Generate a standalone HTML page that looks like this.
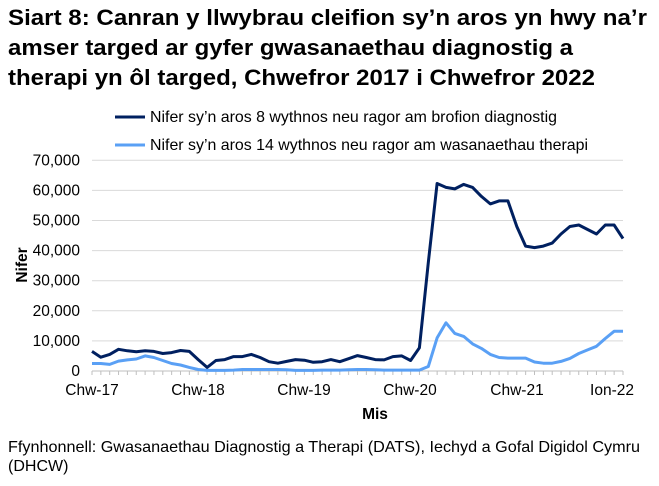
<!DOCTYPE html>
<html><head><meta charset="utf-8"><style>
body{margin:0;background:#fff;width:659px;height:481px;overflow:hidden;font-family:"Liberation Sans",Arial,sans-serif;}
</style></head><body>
<svg id="s" width="659" height="481" xmlns="http://www.w3.org/2000/svg" font-family="Liberation Sans, Arial, sans-serif">
<text x="8" y="25" font-size="22.5" font-weight="bold" fill="#000" textLength="639" lengthAdjust="spacingAndGlyphs">Siart 8: Canran y llwybrau cleifion sy’n aros yn hwy na’r</text>
<text x="8" y="55" font-size="22.5" font-weight="bold" fill="#000" textLength="565" lengthAdjust="spacingAndGlyphs">amser targed ar gyfer gwasanaethau diagnostig a</text>
<text x="8" y="85" font-size="22.5" font-weight="bold" fill="#000" textLength="587" lengthAdjust="spacingAndGlyphs">therapi yn ôl targed, Chwefror 2017 i Chwefror 2022</text>
<line x1="115" y1="117" x2="145" y2="117" stroke="#002060" stroke-width="3"/>
<text x="150" y="122" font-size="15.8" textLength="407" lengthAdjust="spacingAndGlyphs">Nifer sy’n aros 8 wythnos neu ragor am brofion diagnostig</text>
<line x1="115" y1="145" x2="145" y2="145" stroke="#5aa0f5" stroke-width="3"/>
<text x="150" y="150" font-size="15.8" textLength="438" lengthAdjust="spacingAndGlyphs">Nifer sy’n aros 14 wythnos neu ragor am wasanaethau therapi</text>
<g id="grid" stroke="#d9d9d9" stroke-width="1"></g>
<g id="yl" font-size="15.5" text-anchor="end"></g>
<line x1="92" y1="371" x2="623" y2="371" stroke="#bfbfbf"/>
<g id="tk" stroke="#bfbfbf"></g>
<g font-size="15.5" text-anchor="middle">
<text x="92" y="395">Chw-17</text><text x="198" y="395">Chw-18</text><text x="304" y="395">Chw-19</text>
<text x="410" y="395">Chw-20</text><text x="517" y="395">Chw-21</text><text x="612" y="395">Ion-22</text>
</g>
<text x="375" y="419" font-size="15.5" font-weight="bold" text-anchor="middle">Mis</text>
<text transform="translate(27,265) rotate(-90)" font-size="15.5" font-weight="bold" text-anchor="middle">Nifer</text>
<polyline id="p2" fill="none" stroke="#5aa0f5" stroke-width="3" stroke-linejoin="round"/>
<polyline id="p1" fill="none" stroke="#002060" stroke-width="3" stroke-linejoin="round"/>
<text x="8" y="452" font-size="16" textLength="632" lengthAdjust="spacingAndGlyphs">Ffynhonnell: Gwasanaethau Diagnostig a Therapi (DATS), Iechyd a Gofal Digidol Cymru</text>
<text x="8" y="471" font-size="16">(DHCW)</text>
</svg>
<script>
var NS="http://www.w3.org/2000/svg";
function Y(v){return 371-v*30.1/10;}
function X(i){return 92+i*8.85;}
var g=document.getElementById('grid'),yl=document.getElementById('yl'),tk=document.getElementById('tk');
for(var k=1;k<=7;k++){var l=document.createElementNS(NS,'line');l.setAttribute('x1',92);l.setAttribute('x2',623);l.setAttribute('y1',Y(k*10));l.setAttribute('y2',Y(k*10));g.appendChild(l);}
for(var k=0;k<=7;k++){var t=document.createElementNS(NS,'text');t.setAttribute('x',80);t.setAttribute('y',Y(k*10)+5);t.textContent=k==0?'0':(k*10)+',000';yl.appendChild(t);}
for(var i=0;i<=60;i++){var l=document.createElementNS(NS,'line');l.setAttribute('x1',X(i));l.setAttribute('x2',X(i));l.setAttribute('y1',371);l.setAttribute('y2',375);tk.appendChild(l);}
var d=[6.5,4.6,5.5,7.2,6.7,6.4,6.7,6.5,5.8,6.1,6.8,6.5,3.8,1.2,3.5,3.8,4.8,4.8,5.5,4.5,3.1,2.6,3.2,3.8,3.6,2.9,3.1,3.8,3.1,4.1,5.1,4.5,3.8,3.7,4.8,5.0,3.5,7.7,36,62.3,61,60.5,62,61,58,55.5,56.5,56.5,48,41.5,41,41.5,42.5,45.5,48,48.5,47,45.5,48.5,48.5,44];
var e=[2.5,2.5,2.2,3.3,3.7,4,5,4.5,3.5,2.5,2,1.2,0.5,0.2,0.2,0.2,0.3,0.5,0.5,0.5,0.5,0.5,0.4,0.2,0.2,0.2,0.3,0.3,0.3,0.4,0.5,0.5,0.4,0.3,0.3,0.3,0.3,0.3,1.5,11,16,12.5,11.5,9,7.5,5.5,4.5,4.3,4.3,4.3,3,2.6,2.6,3.2,4.2,5.8,7,8.2,10.8,13.2,13.2];
function pts(a){return a.map(function(v,i){return X(i).toFixed(1)+','+Y(v).toFixed(1)}).join(' ');}
document.getElementById('p1').setAttribute('points',pts(d));
document.getElementById('p2').setAttribute('points',pts(e));
</script>
</body></html>
